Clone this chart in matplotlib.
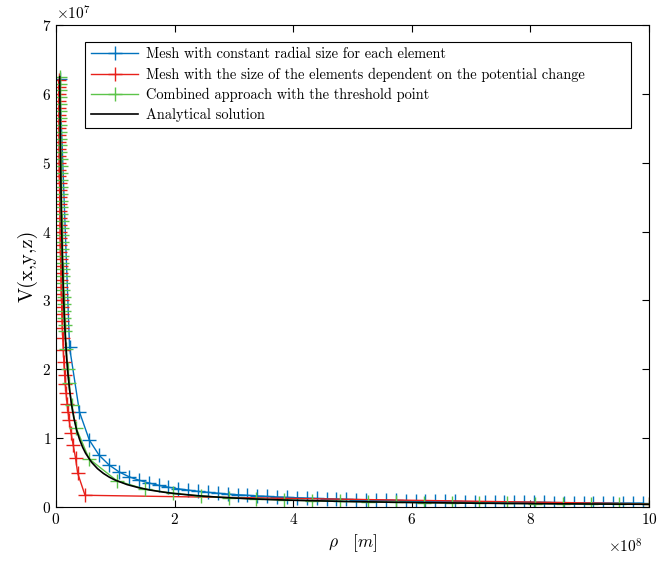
import numpy as np
import matplotlib
matplotlib.use('Agg')
import matplotlib.pyplot as plt

plt.rcParams['font.family'] = 'serif'
plt.rcParams['font.serif'] = ['cmr10', 'DejaVu Serif']
plt.rcParams['mathtext.fontset'] = 'cm'
plt.rcParams['axes.formatter.use_mathtext'] = True

# rho in units of 1e8 m, V in units of 1e7
rho_blue = [0.0625, 0.229, 0.396, 0.563, 0.729, 0.896, 1.063, 1.229, 1.396, 1.563,
            1.729, 1.896, 2.063, 2.229, 2.396, 2.563, 2.729, 2.896, 3.063, 3.229,
            3.396, 3.563, 3.729, 3.896, 4.063, 4.229, 4.396, 4.563, 4.729, 4.896,
            5.063, 5.229, 5.396, 5.563, 5.729, 5.896, 6.063, 6.229, 6.396, 6.563,
            6.729, 6.896, 7.063, 7.229, 7.396, 7.563, 7.729, 7.896, 8.063, 8.229,
            8.396, 8.563, 8.729, 8.896, 9.063, 9.229, 9.396, 9.563, 9.729, 9.896]
v_blue = [6.22, 2.32, 1.38, 0.97, 0.75, 0.61, 0.51, 0.44, 0.39, 0.35,
          0.315, 0.287, 0.264, 0.245, 0.227, 0.213, 0.2, 0.188, 0.178, 0.169,
          0.16, 0.153, 0.146, 0.14, 0.134, 0.129, 0.124, 0.119, 0.115, 0.111,
          0.108, 0.104, 0.101, 0.098, 0.095, 0.092, 0.09, 0.0875, 0.085, 0.083,
          0.081, 0.079, 0.077, 0.075, 0.074, 0.072, 0.0705, 0.069, 0.0676, 0.0662,
          0.0649, 0.0636, 0.0624, 0.0613, 0.0601, 0.059, 0.058, 0.057, 0.056, 0.055]

rho_red = [0.0452, 0.0459, 0.0467, 0.0475, 0.0483, 0.0491, 0.05, 0.0509, 0.0519, 0.0528,
           0.0538, 0.0549, 0.056, 0.0571, 0.0583, 0.0596, 0.0609, 0.0622, 0.0636, 0.0651,
           0.0667, 0.0683, 0.07, 0.0718, 0.0737, 0.0757, 0.0778, 0.08, 0.0824, 0.0848,
           0.0875, 0.0903, 0.0933, 0.0966, 0.1, 0.1037, 0.1077,
           0.114, 0.123, 0.133, 0.146, 0.157, 0.17, 0.187, 0.203, 0.222, 0.255,
           0.29, 0.33, 0.366, 0.49, 10.0]
v_red = [6.2, 6.1, 6.0, 5.9, 5.8, 5.7, 5.6, 5.5, 5.4, 5.3,
         5.2, 5.1, 5.0, 4.9, 4.8, 4.7, 4.6, 4.5, 4.4, 4.3,
         4.2, 4.1, 4.0, 3.9, 3.8, 3.7, 3.6, 3.5, 3.4, 3.3,
         3.2, 3.1, 3.0, 2.9, 2.8, 2.7, 2.6,
         2.45, 2.28, 2.1, 1.92, 1.78, 1.65, 1.5, 1.38, 1.26, 1.07,
         0.9, 0.71, 0.49, 0.17, 0.045]

rho_green = [0.0624, 0.0634, 0.0645, 0.0655, 0.0667, 0.0678, 0.069, 0.0703, 0.0716, 0.0729,
             0.0743, 0.0757, 0.0772, 0.0788, 0.0804, 0.0821, 0.0839, 0.0857, 0.0876, 0.0897,
             0.0918, 0.094, 0.0963, 0.0987, 0.1013, 0.104, 0.1068, 0.1099, 0.113, 0.1164,
             0.12, 0.1238, 0.1279, 0.1322, 0.1368, 0.1418, 0.1472, 0.1529,
             0.17, 0.195, 0.217, 0.264, 0.339, 0.557,
             1.03, 1.5, 1.97, 2.44, 2.91, 3.38, 3.85, 4.32, 4.79, 5.26,
             5.73, 6.2, 6.67, 7.14, 7.61, 8.08, 8.55, 9.02, 9.49, 10.0]
v_green = [6.25, 6.15, 6.05, 5.95, 5.85, 5.75, 5.65, 5.55, 5.45, 5.35,
           5.25, 5.15, 5.05, 4.95, 4.85, 4.75, 4.65, 4.55, 4.45, 4.35,
           4.25, 4.15, 4.05, 3.95, 3.85, 3.75, 3.65, 3.55, 3.45, 3.35,
           3.25, 3.15, 3.05, 2.95, 2.85, 2.75, 2.65, 2.55,
           2.3, 2.0, 1.8, 1.48, 1.15, 0.7,
           0.379, 0.26, 0.198, 0.16, 0.134, 0.115, 0.101, 0.09, 0.081, 0.074,
           0.068, 0.063, 0.058, 0.055, 0.051, 0.048, 0.046, 0.043, 0.041, 0.039]

rho_exact = [0.0624, 0.07, 0.08, 0.09, 0.1, 0.115, 0.13, 0.15, 0.175, 0.2,
             0.23, 0.26, 0.3, 0.35, 0.4, 0.45, 0.5, 0.6, 0.7, 0.8,
             0.9, 1.0, 1.2, 1.4, 1.6, 1.8, 2.0, 2.4, 2.8, 3.2,
             3.6, 4.0, 5.0, 6.0, 7.0, 8.0, 9.0, 10.0]
v_exact = [6.25, 5.57, 4.88, 4.33, 3.9, 3.39, 3.0, 2.6, 2.23, 1.95,
           1.70, 1.5, 1.3, 1.11, 0.975, 0.867, 0.78, 0.65, 0.557, 0.4875,
           0.433, 0.39, 0.325, 0.279, 0.244, 0.217, 0.195, 0.1625, 0.139, 0.122,
           0.108, 0.0975, 0.078, 0.065, 0.0557, 0.0488, 0.0433, 0.039]

labels = ['Mesh with constant radial size for each element',
          'Mesh with the size of the elements dependent on the potential change',
          'Combined approach with the threshold point',
          'Analytical solution']

fig = plt.figure(figsize=(6.72, 5.63), dpi=100)
ax = fig.add_axes([0.0833, 0.0995, 0.8825, 0.8561])

ax.plot(rho_blue, v_blue, '+-', color='#0072BD', lw=1, ms=10, mew=1, label=labels[0])
ax.plot(rho_red, v_red, '+-', color='#E8201A', lw=1, ms=10, mew=1, label=labels[1])
ax.plot(rho_green, v_green, '+-', color='#5CC44A', lw=1, ms=10, mew=1, label=labels[2])
ax.plot(rho_exact, v_exact, '-', color='black', lw=1.2, label=labels[3])

ax.set_xlim(0, 10)
ax.set_ylim(0, 7)
ax.set_xticks(range(0, 11, 2))
ax.set_yticks(range(0, 8))
ax.tick_params(direction='in', top=True, right=True, length=5, width=0.8, labelsize=11)
for s in ax.spines.values():
    s.set_linewidth(0.8)

ax.set_xlabel(r'$\rho\quad[m]$', fontsize=12.5)
ax.set_ylabel('V(x,y,z)', fontsize=14.5, labelpad=3)
ax.text(0.0, 1.005, r'$\times10^{7}$', transform=ax.transAxes, fontsize=11, ha='left', va='bottom')
ax.text(0.99, -0.063, r'$\times10^{8}$', transform=ax.transAxes, fontsize=11, ha='right', va='top')

leg = ax.legend(loc='upper left', bbox_to_anchor=(0.049, 0.0, 0.9207, 0.965), mode='expand',
                borderaxespad=0, fontsize=10.4, handlelength=3.3, frameon=True, fancybox=False,
                framealpha=1, edgecolor='black', labelspacing=0.42, handletextpad=0.5)
leg.get_frame().set_linewidth(0.8)

fig.savefig('out.png', dpi=100)
